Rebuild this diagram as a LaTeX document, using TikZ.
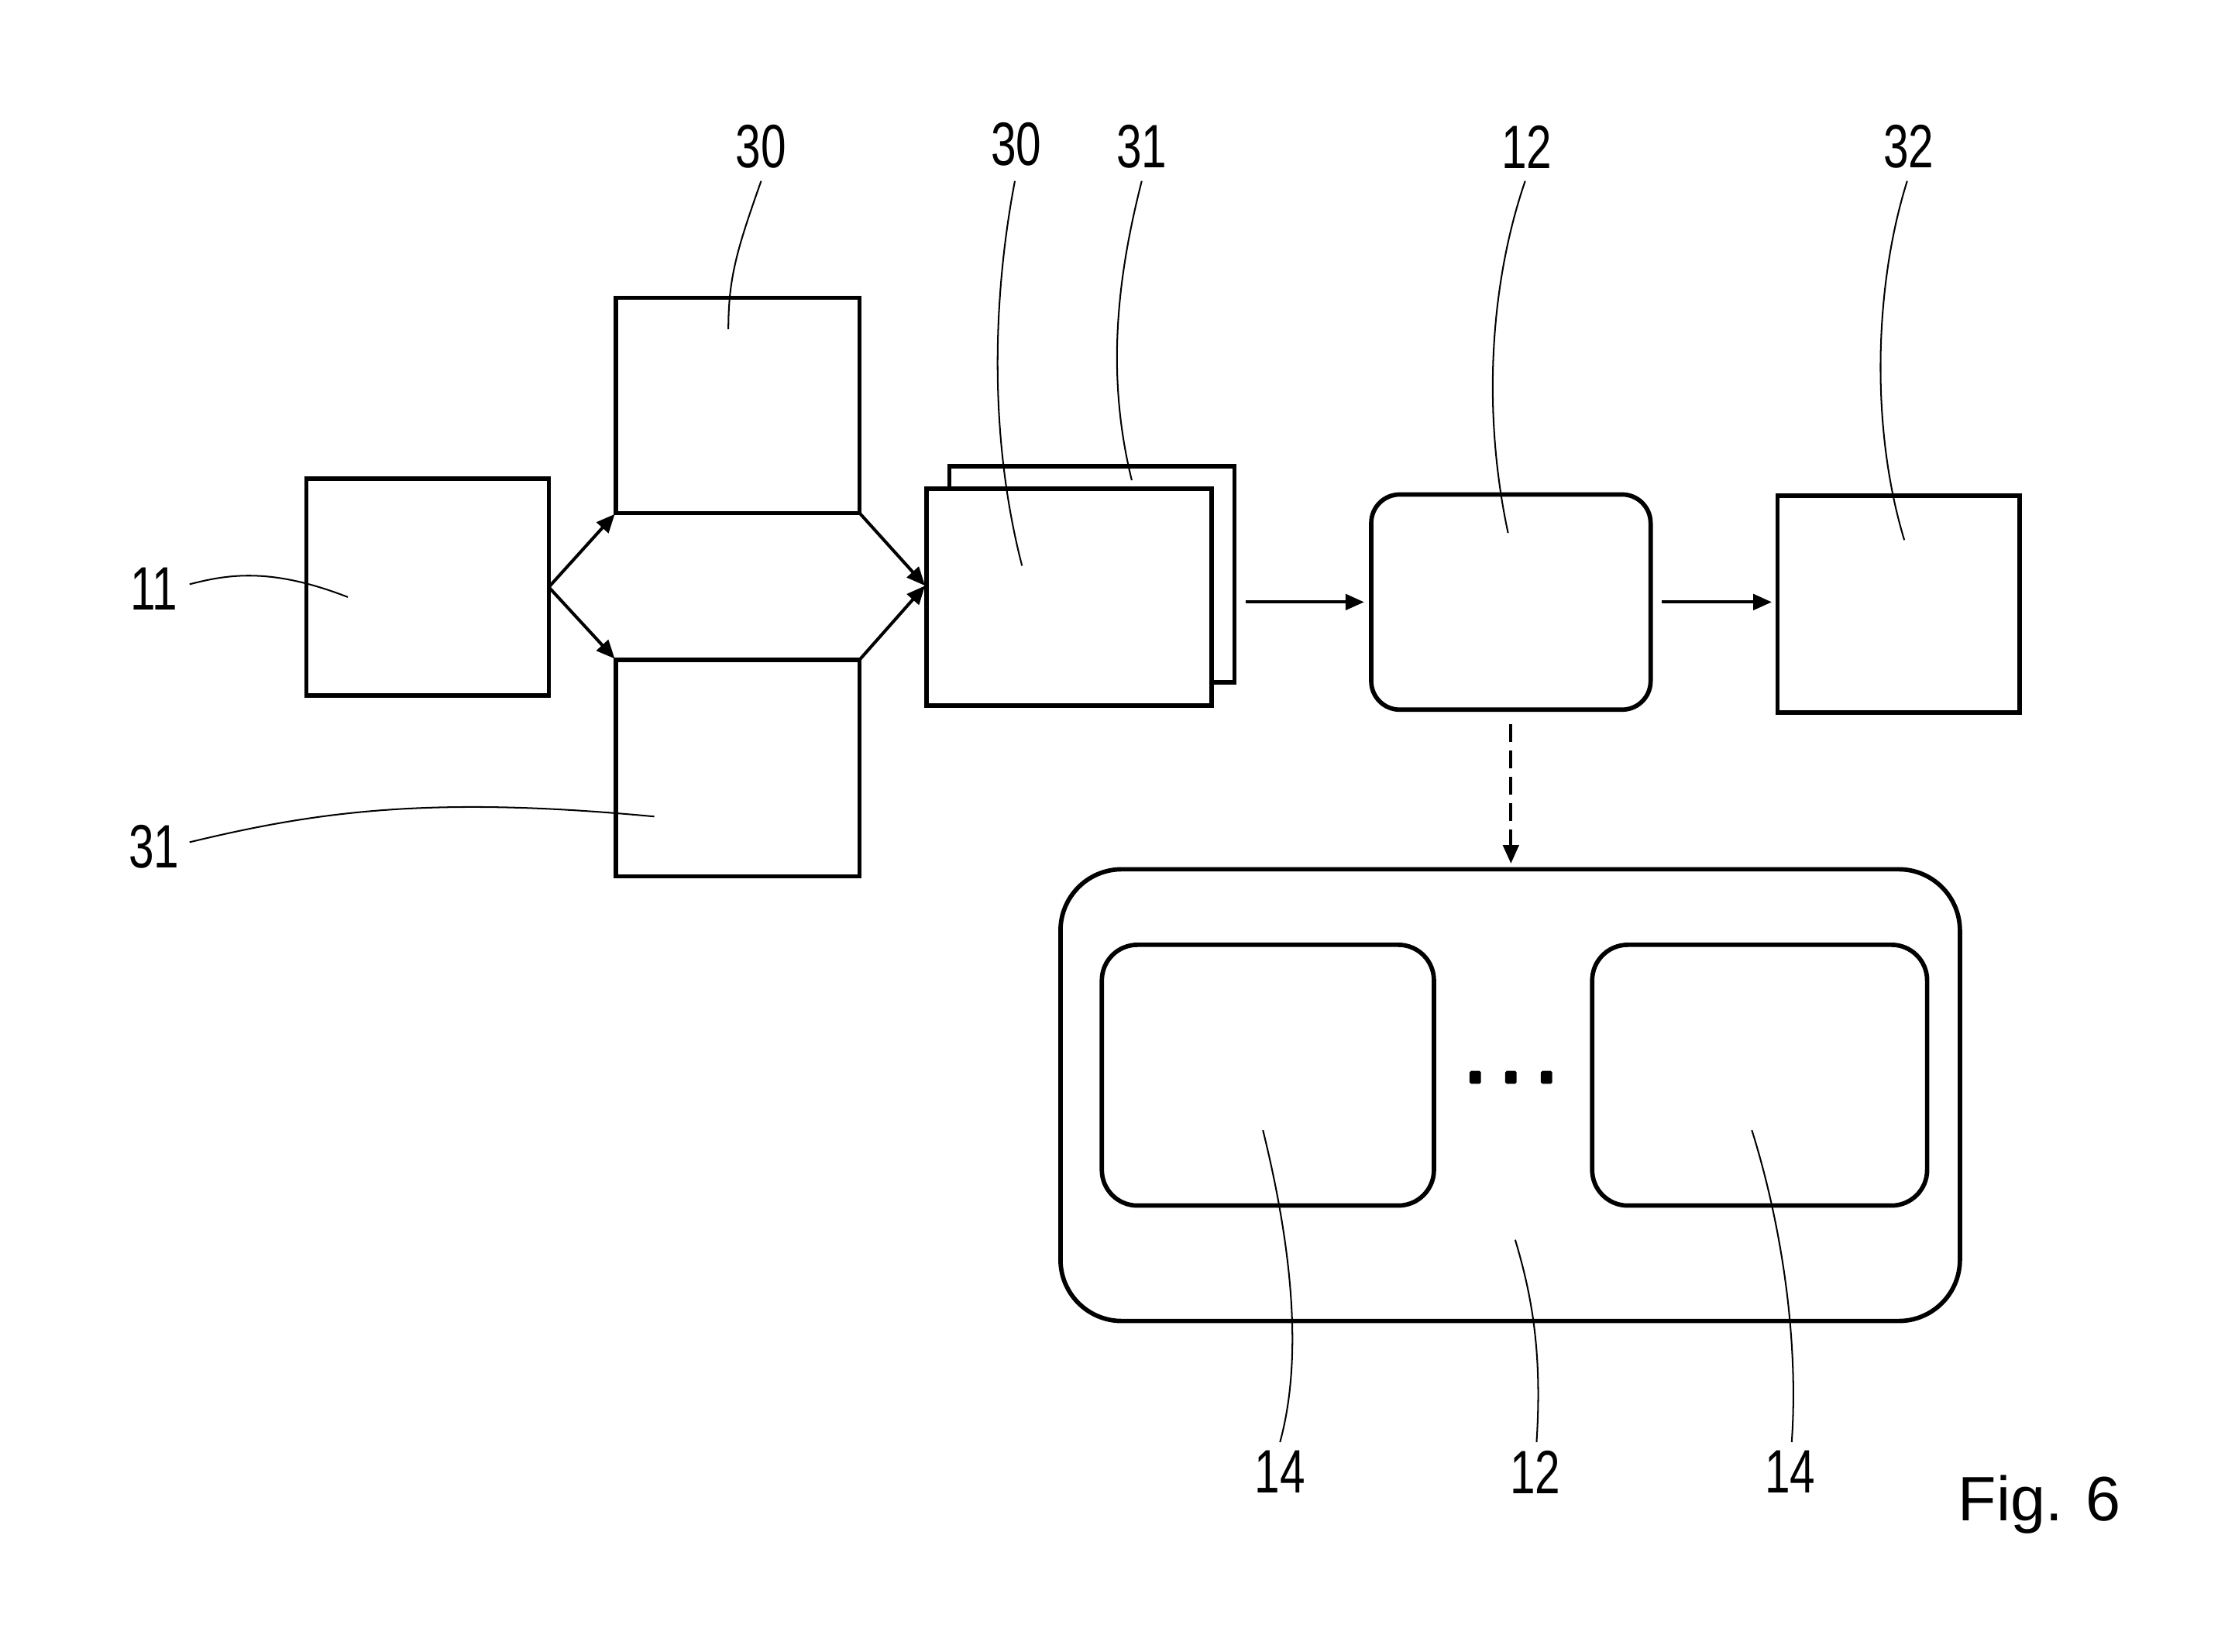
\documentclass[tikz,border=0pt]{standalone}
\usepackage{fontspec}
\setmainfont{Liberation Sans}
\newfontfamily\labelfont[FakeStretch=0.74]{Liberation Sans}
\usetikzlibrary{arrows.meta}
\tikzset{
  x=1pt, y=-1pt,
  box/.style={draw, line width=3.1pt, fill=white, inner sep=0pt, outer sep=0pt},
  rbox/.style={box, rounded corners=#1},
  arr/.style={line width=2.2pt, -{Triangle[length=13pt,width=11pt]}},
  dasharr/.style={arr, dash pattern=on 12.5pt off 6pt},
  leader/.style={line width=1.1pt},
  lbl/.style={font=\labelfont\fontsize{43}{48}\selectfont, inner sep=0pt},
  dotbox/.style={fill, minimum width=8pt, minimum height=9pt, inner sep=0pt, rounded corners=1pt}
}
\begin{document}
\begin{tikzpicture}
\useasboundingbox (0,0) rectangle (1568,1159);
% boxes
\node[box, minimum width=170pt, minimum height=152pt] (b11) at (300,412) {};
\node[box, minimum width=171pt, minimum height=151pt] (b30) at (517.5,284.5) {};
\node[box, minimum width=171pt, minimum height=152pt] (b31) at (517.5,539) {};
\node[box, minimum width=200pt, minimum height=152pt] (back) at (766,403) {};
\node[box, minimum width=200pt, minimum height=152pt] (front) at (750,419) {};
\node[rbox=20pt, minimum width=196pt, minimum height=151pt] (b12) at (1060,422.5) {};
\node[box, minimum width=170pt, minimum height=152pt] (b32) at (1332,424) {};
\node[rbox=43pt, minimum width=631pt, minimum height=317pt] (big) at (1059.5,768.5) {};
\node[rbox=25pt, minimum width=233pt, minimum height=183pt] (inl) at (889.5,754.5) {};
\node[rbox=25pt, minimum width=235pt, minimum height=183pt] (inr) at (1234.5,754.5) {};
% dots
\node[dotbox] (d1) at (1035,756) {};
\node[dotbox] (d2) at (1060,756) {};
\node[dotbox] (d3) at (1085,756) {};
% connectors
\coordinate (cin) at (649,411);
\draw[arr, shorten >=1pt] (b11.east) -- (b30.south west);
\draw[arr, shorten >=1pt] (b11.east) -- (b31.north west);
\draw[arr, shorten <=1pt] (b30.south east) -- (cin);
\draw[arr, shorten <=1pt] (b31.north east) -- (cin);
\draw[arr] ([xshift=8pt]back.east |- b12.west) -- ([xshift=-5pt]b12.west);
\draw[arr] ([xshift=8pt]b12.east) -- ([xshift=-4pt]b32.west |- b12.east);
\draw[dasharr] ([yshift=-10pt]b12.south) -- ([yshift=4pt]big.north -| b12.south);
% labels
\node[lbl] (t30a) at (534,103) {30};
\node[lbl] (t30b) at (713,101) {30};
\node[lbl] (t31b) at (801,103) {31};
\node[lbl] (t12a) at (1071,103) {12};
\node[lbl] (t32) at (1339,103) {32};
\node[lbl] (t11) at (108,413) {11};
\node[lbl] (t31a) at (108,594) {31};
\node[lbl] (t14a) at (898,1033) {14};
\node[lbl] (t12b) at (1077,1033) {12};
\node[lbl] (t14b) at (1256,1033) {14};
\node[font=\fontsize{44}{50}\selectfont, inner sep=0pt] (fig) at (1431,1056) {Fig. 6};
% leaders
\draw[leader] (534,127) .. controls (517,175) and (511,195) .. (511,231);
\draw[leader] (712,127) .. controls (698,200) and (692,300) .. (717,397);
\draw[leader] (801,127) .. controls (785,190) and (775,260) .. (794,337);
\draw[leader] (1070,127) .. controls (1045,200) and (1040,290) .. (1058,374);
\draw[leader] (1338,127) .. controls (1315,200) and (1312,300) .. (1336,379);
\draw[leader] (133,410) .. controls (160,403) and (190,398) .. (244,419);
\draw[leader] (133,591) .. controls (220,570) and (300,558) .. (459,573);
\draw[leader] (886,793) .. controls (905,870) and (915,950) .. (898,1012);
\draw[leader] (1063,870) .. controls (1075,910) and (1082,950) .. (1078,1012);
\draw[leader] (1229,793) .. controls (1250,860) and (1262,940) .. (1257,1012);
\end{tikzpicture}
\end{document}
